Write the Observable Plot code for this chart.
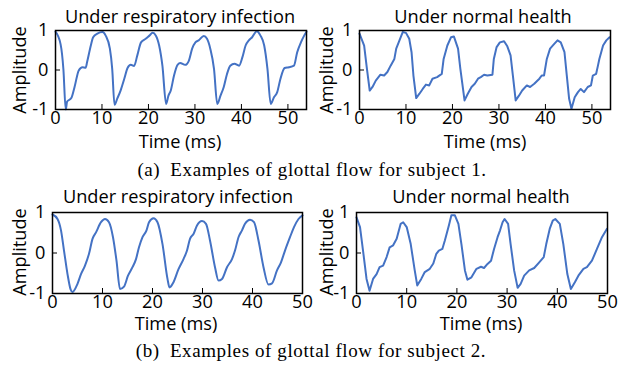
<!DOCTYPE html>
<html><head><meta charset="utf-8">
<script src="https://cdn.jsdelivr.net/npm/d3@7"></script>
<script src="https://cdn.jsdelivr.net/npm/@observablehq/plot@0.6"></script>
<style>
body{margin:0;background:#fff}
#root{position:relative;width:635px;height:366px;overflow:hidden;background:#fff}
#root svg.panel{position:absolute}
#overlay{position:absolute;left:0;top:0}
</style></head>
<body><div id="root"></div>
<script>
// ---- data ----
const panelTitles = ["Under respiratory infection", "Under normal health", "Under respiratory infection", "Under normal health"];
const captions = ["(a)\u2002Examples of glottal flow for subject 1.", "(b)\u2002Examples of glottal flow for subject 2."];
const xLabel = "Time (ms)";
const yLabel = "Amplitude";
const xTicks = [0, 10, 20, 30, 40, 50];
const yTicks = [-1, 0, 1];
const yTickLabels = ["-1", "0", "1"];
const xMaxRow1 = 54;
const xMaxRow2 = 50;

// subject 1, respiratory infection
const s1InfT = [0, 1.1, 1.7, 2.2, 2.5, 3.4, 4.1, 5.0, 5.8, 6.5, 6.8, 7.6, 8.1, 9.0, 10.1, 10.8, 11.7, 12.2, 12.7, 13.3, 14.0, 14.8, 15.5, 16.2, 16.9, 17.6, 18.4, 19.4, 20.2, 20.9, 21.6, 22.3, 23.0, 23.8, 24.3, 24.8, 25.5, 26.2, 26.8, 27.9, 28.7, 29.4, 30.1, 30.8, 31.9, 32.6, 33.3, 34.1, 34.8, 35.5, 36.2, 36.9, 37.6, 38.5, 39.5, 40.2, 40.9, 41.6, 42.3, 43.3, 44.1, 44.9, 45.6, 46.3, 47.0, 47.7, 48.4, 49.3, 50.2, 51.3, 52.0, 52.8, 53.5, 54.0];
const s1InfA = [0.97, 0.65, 0.02, -1.0, -0.8, -0.71, -0.43, -0.01, 0.07, 0.06, 0.2, 0.62, 0.83, 0.92, 0.96, 0.87, 0.54, 0.03, -0.88, -0.72, -0.52, -0.22, 0.05, 0.13, 0.1, 0.37, 0.7, 0.79, 0.87, 0.94, 0.87, 0.62, 0.11, -0.86, -0.65, -0.52, -0.14, 0.12, 0.18, 0.13, 0.24, 0.54, 0.7, 0.75, 0.86, 0.79, 0.54, 0.03, -0.86, -0.65, -0.43, -0.1, 0.11, 0.16, 0.11, 0.32, 0.62, 0.75, 0.83, 0.98, 0.87, 0.62, 0.03, -0.86, -0.69, -0.56, -0.22, 0.05, 0.07, 0.11, 0.45, 0.7, 0.87, 0.97];

// subject 1, normal health
const s1NormT = [0, 1.0, 1.6, 2.2, 2.8, 3.5, 4.5, 5.3, 6.0, 6.7, 7.5, 7.9, 8.6, 9.3, 10.0, 10.7, 11.2, 11.6, 12.2, 12.9, 13.6, 14.3, 15.0, 15.7, 16.7, 17.7, 18.1, 18.9, 19.7, 20.3, 21.2, 21.7, 22.6, 23.3, 24.1, 24.8, 25.5, 26.1, 26.8, 27.5, 28.6, 28.9, 29.5, 30.2, 31.1, 31.8, 32.5, 33.0, 33.6, 34.3, 35.0, 36.0, 36.7, 37.6, 38.7, 39.2, 39.7, 40.3, 41.0, 41.9, 42.6, 43.3, 44.1, 44.6, 45.1, 45.6, 46.3, 47.0, 47.6, 48.3, 49.1, 49.8, 50.2, 50.9, 51.3, 51.6, 52.4, 53.1, 53.8];
const s1NormA = [0.92, 0.62, 0.03, -0.52, -0.43, -0.27, -0.12, -0.14, -0.05, 0.11, 0.28, 0.54, 0.75, 0.96, 0.94, 0.79, 0.45, -0.14, -0.71, -0.6, -0.48, -0.37, -0.39, -0.22, -0.18, -0.1, 0.28, 0.62, 0.83, 0.85, 0.54, 0.03, -0.77, -0.6, -0.43, -0.35, -0.22, -0.18, -0.12, -0.14, -0.12, 0.28, 0.58, 0.7, 0.73, 0.6, 0.37, -0.14, -0.77, -0.65, -0.52, -0.39, -0.43, -0.35, -0.22, -0.14, -0.14, 0.28, 0.54, 0.66, 0.75, 0.7, 0.45, -0.14, -0.73, -0.98, -0.69, -0.56, -0.48, -0.56, -0.43, -0.39, -0.14, -0.1, 0.11, 0.28, 0.62, 0.75, 0.83];

// subject 2, respiratory infection
const s2InfT = [0, 1.0, 1.7, 2.3, 3.0, 3.6, 4.0, 5.0, 5.7, 6.5, 7.3, 8.0, 8.7, 9.7, 10.5, 11.3, 12.1, 12.8, 13.5, 14.3, 15.1, 16.0, 16.7, 17.3, 18.0, 18.8, 19.3, 20.2, 21.0, 22.0, 23.0, 23.4, 24.2, 25.2, 26.2, 26.9, 27.5, 28.2, 28.9, 29.9, 30.7, 31.5, 32.5, 33.2, 33.9, 34.9, 35.9, 36.5, 37.2, 37.9, 38.5, 39.5, 40.3, 41.2, 42.2, 43.2, 43.9, 44.9, 45.7, 46.5, 47.5, 48.3, 49.2, 50];
const s2InfA = [0.95, 0.84, 0.56, 0.06, -0.52, -0.89, -0.96, -0.76, -0.52, -0.31, -0.02, 0.35, 0.51, 0.76, 0.84, 0.76, 0.39, -0.19, -0.89, -0.83, -0.56, -0.35, -0.15, 0.14, 0.39, 0.56, 0.76, 0.86, 0.76, 0.22, -0.64, -0.85, -0.72, -0.4, -0.15, 0.06, 0.35, 0.47, 0.68, 0.79, 0.72, 0.31, -0.35, -0.68, -0.64, -0.35, -0.15, 0.06, 0.39, 0.56, 0.72, 0.82, 0.76, 0.31, -0.35, -0.78, -0.75, -0.43, -0.23, 0.06, 0.39, 0.64, 0.84, 0.93];

// subject 2, normal health
const s2NormT = [0, 0.7, 1.3, 2.0, 2.6, 3.3, 4.0, 4.6, 5.3, 6.0, 6.6, 7.3, 8.0, 8.8, 9.3, 10.0, 10.8, 11.6, 12.1, 12.9, 13.6, 14.6, 15.3, 15.9, 16.4, 17.1, 17.6, 18.4, 18.9, 19.6, 20.3, 20.9, 21.6, 22.1, 22.9, 23.9, 24.8, 25.4, 26.1, 26.8, 27.4, 28.1, 28.6, 29.1, 29.5, 30.2, 30.7, 31.4, 32.1, 32.7, 33.4, 34.4, 35.4, 36.4, 37.3, 37.8, 38.5, 39.1, 39.6, 40.5, 41.2, 42.0, 42.7, 43.5, 44.2, 45.2, 45.9, 46.9, 47.9, 48.9, 49.9];
const s2NormA = [0.88, 0.64, 0.06, -0.64, -0.93, -0.64, -0.52, -0.35, -0.31, -0.1, 0.14, 0.19, 0.35, 0.72, 0.76, 0.64, 0.22, -0.43, -0.8, -0.64, -0.47, -0.39, -0.26, -0.02, 0.06, 0.1, 0.31, 0.68, 0.93, 0.93, 0.72, 0.22, -0.43, -0.66, -0.6, -0.39, -0.34, -0.37, -0.27, -0.19, 0.1, 0.39, 0.56, 0.76, 0.84, 0.72, 0.22, -0.43, -0.86, -0.76, -0.56, -0.43, -0.37, -0.23, -0.1, 0.22, 0.6, 0.8, 0.84, 0.72, 0.22, -0.52, -0.89, -0.72, -0.56, -0.39, -0.35, -0.19, 0.1, 0.39, 0.6];

// ---- layout ----
const FONT = "'Open Sans', sans-serif";
const FS = 18.2;
const panels = [
  {t: s1InfT, a: s1InfA, xMax: xMaxRow1, left: 0, top: 0, width: 315, height: 135, ml: 55, mr: 9, mt: 30, mb: 26, curve: "monotone-x"},
  {t: s1NormT, a: s1NormA, xMax: xMaxRow1, left: 315, top: 0, width: 320, height: 135, ml: 44, mr: 25, mt: 30, mb: 26, curve: "linear"},
  {t: s2InfT, a: s2InfA, xMax: xMaxRow2, left: 0, top: 180, width: 315, height: 140, ml: 52, mr: 13, mt: 32, mb: 27, curve: "monotone-x"},
  {t: s2NormT, a: s2NormA, xMax: xMaxRow2, left: 315, top: 180, width: 320, height: 140, ml: 41, mr: 28, mt: 32, mb: 27, curve: "linear"}
];

const root = document.getElementById("root");
panels.forEach((p) => {
  const idx = d3.range(p.t.length);
  const chart = Plot.plot({
    width: p.width, height: p.height,
    marginLeft: p.ml, marginRight: p.mr, marginTop: p.mt, marginBottom: p.mb,
    style: {fontFamily: FONT, fontSize: FS + "px", color: "#000", background: "transparent", overflow: "visible"},
    x: {domain: [0, p.xMax]},
    y: {domain: [-1, 1]},
    marks: [
      Plot.axisX(xTicks, {tickSize: -5, tickPadding: 7, fontSize: FS, label: null, stroke: "#000", fill: "#000"}),
      Plot.axisY(yTicks, {tickSize: -5, tickPadding: 12, fontSize: FS, label: null, tickFormat: (d) => yTickLabels[yTicks.indexOf(d)], fill: "#000", stroke: "#000"}),
      Plot.line(idx, {x: (i) => p.t[i], y: (i) => p.a[i], stroke: "#4472c4", strokeWidth: 2, curve: p.curve}),
      Plot.frame({stroke: "#000", strokeWidth: 1.5})
    ]
  });
  chart.classList.add("panel");
  chart.style.left = p.left + "px";
  chart.style.top = p.top + "px";
  root.appendChild(chart);
});

// ---- text overlay ----
const svg = d3.select(root).append("svg").attr("id", "overlay").attr("width", 635).attr("height", 366);
const titlePos = [[180, 23], [483, 23], [178, 203], [481, 203]];
const xLabelPos = [[180, 148], [485, 148], [176, 330], [481, 330]];
const yLabelPos = [[26, 70], [333, 70], [26, 252], [333, 252]];
panelTitles.forEach((s, i) => {
  svg.append("text").attr("x", titlePos[i][0]).attr("y", titlePos[i][1]).attr("text-anchor", "middle")
    .style("font-family", FONT).style("font-size", FS + "px").attr("fill", "#000").text(s);
  svg.append("text").attr("x", xLabelPos[i][0]).attr("y", xLabelPos[i][1]).attr("text-anchor", "middle")
    .style("font-family", FONT).style("font-size", FS + "px").attr("fill", "#000").text(xLabel);
  svg.append("text").attr("transform", `translate(${yLabelPos[i][0]},${yLabelPos[i][1]}) rotate(-90)`).attr("text-anchor", "middle")
    .style("font-family", FONT).style("font-size", FS + "px").attr("fill", "#000").text(yLabel);
});
const capPos = [[312, 176], [311, 357]];
captions.forEach((s, i) => {
  svg.append("text").attr("x", capPos[i][0]).attr("y", capPos[i][1]).attr("text-anchor", "middle")
    .style("font-family", "'Liberation Serif', serif").style("font-size", "19px").style("letter-spacing", "0.6px")
    .attr("fill", "#000").text(s);
});
</script>
</body></html>
